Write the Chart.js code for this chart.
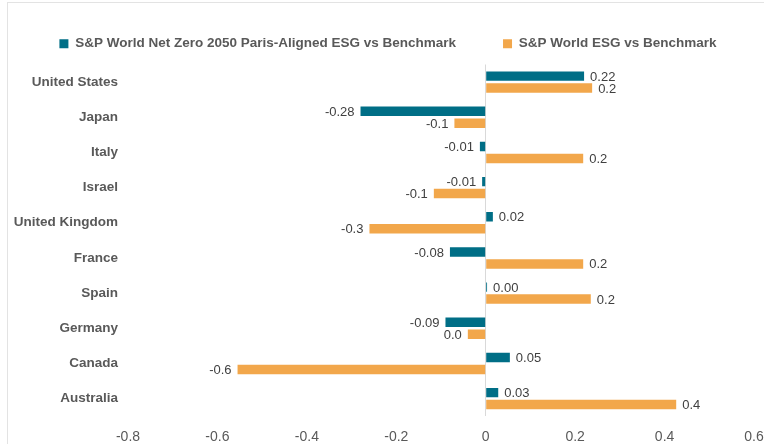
<!DOCTYPE html>
<html>
<head>
<meta charset="utf-8">
<script src="https://cdn.jsdelivr.net/npm/chart.js@4/dist/chart.umd.min.js"></script>
<style>
  html, body { margin: 0; padding: 0; background: #fff; }
  #wrap { position: relative; width: 764px; height: 444px; overflow: hidden; }
  #frame { position: absolute; left: 7px; top: 2px; width: 800px; height: 500px;
           border-left: 1px solid #e3e3e3; border-top: 1px solid #e3e3e3; pointer-events: none; }
</style>
</head>
<body>
<div id="wrap">
  <canvas id="chart" width="764" height="444"></canvas>
  <div id="frame"></div>
</div>
<script>
const countries = ["United States", "Japan", "Italy", "Israel", "United Kingdom",
  "France", "Spain", "Germany", "Canada", "Australia"];
const netZeroVsBench = [0.22, -0.28, -0.013, -0.008, 0.016, -0.08, 0.003, -0.09, 0.054, 0.028];
const esgVsBench = [0.238, -0.07, 0.218, -0.116, -0.26, 0.218, 0.235, -0.04, -0.555, 0.426];
const xTicks = [-0.8, -0.6, -0.4, -0.2, 0, 0.2, 0.4, 0.6];

const FONT = "'Liberation Sans', Arial, sans-serif";

// value labels at bar ends (teal 2 decimals, orange 1 decimal)
const barLabels = {
  id: "barLabels",
  afterDatasetsDraw(chart) {
    const ctx = chart.ctx;
    ctx.save();
    ctx.font = "13px " + FONT;
    ctx.fillStyle = "#404040";
    ctx.textBaseline = "middle";
    chart.data.datasets.forEach((ds, di) => {
      const meta = chart.getDatasetMeta(di);
      meta.data.forEach((bar, i) => {
        const v = ds.data[i];
        const txt = di === 0 ? v.toFixed(2) : (Math.round(v * 10) / 10).toFixed(1);
        if (v >= 0) {
          ctx.textAlign = "left";
          ctx.fillText(txt, bar.x + 6, bar.y + 1);
        } else {
          ctx.textAlign = "right";
          ctx.fillText(txt, bar.x - 6, bar.y + 1);
        }
      });
    });
    ctx.restore();
  },
};

// nudge the legend a bit right, like the original
const legendShift = {
  id: "legendShift",
  afterLayout(chart) {
    chart.legend.left += 11;
    chart.legend.right += 11;
  },
};

new Chart(document.getElementById("chart"), {
  type: "bar",
  data: {
    labels: countries,
    datasets: [
      {
        label: "S&P World Net Zero 2050 Paris-Aligned ESG vs Benchmark",
        data: netZeroVsBench,
        backgroundColor: "#006e86",
        borderWidth: 0,
        categoryPercentage: 0.68,
        barPercentage: 0.79,
      },
      {
        label: "S&P World ESG vs Benchmark",
        data: esgVsBench,
        backgroundColor: "#f2a74b",
        borderWidth: 0,
        categoryPercentage: 0.68,
        barPercentage: 0.79,
      },
    ],
  },
  options: {
    indexAxis: "y",
    responsive: false,
    animation: false,
    layout: { padding: { left: 0, right: 10, top: -10, bottom: -15 } },
    plugins: {
      tooltip: { enabled: false },
      legend: {
        position: "top",
        labels: {
          boxWidth: 9,
          boxHeight: 9,
          padding: 47,
          color: "#595959",
          font: { family: FONT, size: 13.5, weight: "bold" },
        },
      },
      // empty spacer between legend and plot
      subtitle: {
        display: true,
        text: "",
        weight: 500,
        font: { size: 1, lineHeight: 1 },
        padding: { top: 0, bottom: 3 },
      },
    },
    scales: {
      x: {
        min: -0.8,
        max: 0.6,
        afterBuildTicks(scale) {
          scale.ticks = xTicks.map((v) => ({ value: v }));
        },
        afterFit(scale) {
          scale.paddingLeft = 0;
          scale.paddingRight = 0;
        },
        grid: {
          drawTicks: false,
          color: (c) => (c.tick && c.tick.value === 0 ? "#d9d9d9" : "rgba(0,0,0,0)"),
        },
        border: { display: false },
        ticks: {
          padding: 13,
          color: "#595959",
          font: { family: FONT, size: 14 },
          callback: (v) => String(Number(v.toFixed(1))),
        },
      },
      y: {
        afterFit(scale) {
          scale.width = 128;
        },
        grid: { display: false, drawTicks: false },
        border: { display: false },
        ticks: {
          padding: 10,
          color: "#595959",
          font: { family: FONT, size: 13.5, weight: "bold" },
        },
      },
    },
  },
  plugins: [barLabels, legendShift],
});
</script>
</body>
</html>
